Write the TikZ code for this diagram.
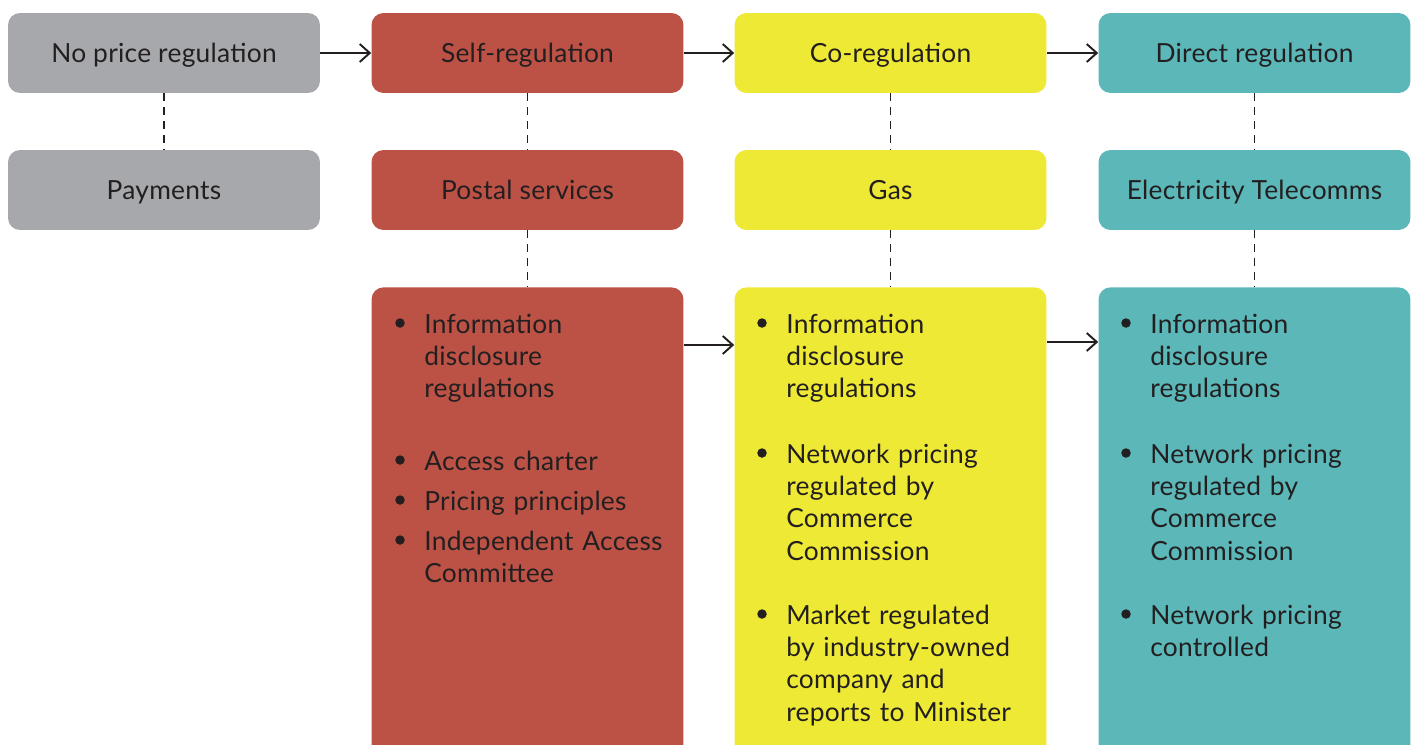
\documentclass[tikz,border=0pt]{standalone}
\usepackage{fontspec}
\setmainfont[LetterSpace=1]{Lato}
\usepackage{xcolor}
\usetikzlibrary{arrows.meta,positioning}

\definecolor{nogrey}{HTML}{A7A8AC}
\definecolor{selfred}{HTML}{BC5246}
\definecolor{coyellow}{HTML}{EEE935}
\definecolor{directteal}{HTML}{5BB7B8}
\definecolor{inkdark}{HTML}{231F20}

\begin{document}
\begin{tikzpicture}[
    x=0.02cm, y=-0.02cm,
    font=\fontsize{15}{18.4}\selectfont,
    headbox/.style={rectangle, rounded corners=0.24cm, minimum width=6.24cm, minimum height=1.6cm,
                    text height=0.37cm, text depth=0pt, inner sep=0pt, text=inkdark},
    listbox/.style={rectangle, rounded corners=0.24cm, minimum width=6.24cm, minimum height=10cm,
                    anchor=north, inner sep=0pt},
    itemtext/.style={anchor=north west, inner sep=0pt, text width=5.4cm, align=left, text=inkdark},
    bulletdot/.style={circle, fill=inkdark, inner sep=0pt, minimum size=0.19cm},
    arrow/.style={-{Straight Barb[length=0.2cm,width=0.36cm]}, line width=1.1pt, draw=inkdark},
    link/.style={dash pattern=on 0.16cm off 0.12cm, line width=1.1pt, draw=inkdark}
]
    \useasboundingbox (0,0) rectangle (1416,744);
    \clip (0,0) rectangle (1416,744);

    % regulation levels
    \node[headbox, fill=nogrey] (none) at (164,53) {No price regulation};
    \node[headbox, fill=selfred] (self) at (527.5,53) {Self-regulation};
    \node[headbox, fill=coyellow] (coreg) at (890.5,53) {Co-regulation};
    \node[headbox, fill=directteal] (direct) at (1254.5,53) {Direct regulation};

    % sectors
    \node[headbox, fill=nogrey] (payments) at (164,190) {Payments};
    \node[headbox, fill=selfred] (postal) at (527.5,190) {Postal services};
    \node[headbox, fill=coyellow] (gas) at (890.5,190) {Gas};
    \node[headbox, fill=directteal] (power) at (1254.5,190) {Electricity Telecomms};

    % measures
    \node[listbox, fill=selfred] (selflist) at (527.5,287) {};
    \node[listbox, fill=coyellow] (colist) at (890.5,287) {};
    \node[listbox, fill=directteal] (directlist) at (1254.5,287) {};

    \foreach \y/\t [count=\i] in {333/{Information\\disclosure\\regulations}, 470/{Access charter},
                                  510/{Pricing principles}, 550/{Independent Access\\Committee}} {
        \node[bulletdot] (selfdot\i) at (400,\y-10) {};
        \node[itemtext] (selfitem\i) at (424,\y-22.7) {\strut\t};
    }
    \foreach \y/\t [count=\i] in {333/{Information\\disclosure\\regulations},
                                  463/{Network pricing\\regulated by\\Commerce\\Commission},
                                  624/{Market regulated\\by industry-owned\\company and\\reports to Minister}} {
        \node[bulletdot] (codot\i) at (762,\y-10) {};
        \node[itemtext] (coitem\i) at (786,\y-22.7) {\strut\t};
    }
    \foreach \y/\t [count=\i] in {333/{Information\\disclosure\\regulations},
                                  463/{Network pricing\\regulated by\\Commerce\\Commission},
                                  624/{Network pricing\\controlled}} {
        \node[bulletdot] (directdot\i) at (1126,\y-10) {};
        \node[itemtext] (directitem\i) at (1150,\y-22.7) {\strut\t};
    }

    % steps
    \draw[arrow] (none) -- (self);
    \draw[arrow] (self) -- (coreg);
    \draw[arrow] (coreg) -- (direct);
    \draw[arrow] ([yshift=-1.16cm]selflist.north east) -- ([yshift=-1.16cm]colist.north west);
    \draw[arrow] ([yshift=-1.1cm]colist.north east) -- ([yshift=-1.1cm]directlist.north west);

    % dashed links
    \draw[link] (none) -- (payments);
    \draw[link] (self) -- (postal);
    \draw[link] (coreg) -- (gas);
    \draw[link] (direct) -- (power);
    \draw[link] (postal) -- (selflist);
    \draw[link] (gas) -- (colist);
    \draw[link] (power) -- (directlist);
\end{tikzpicture}
\end{document}
